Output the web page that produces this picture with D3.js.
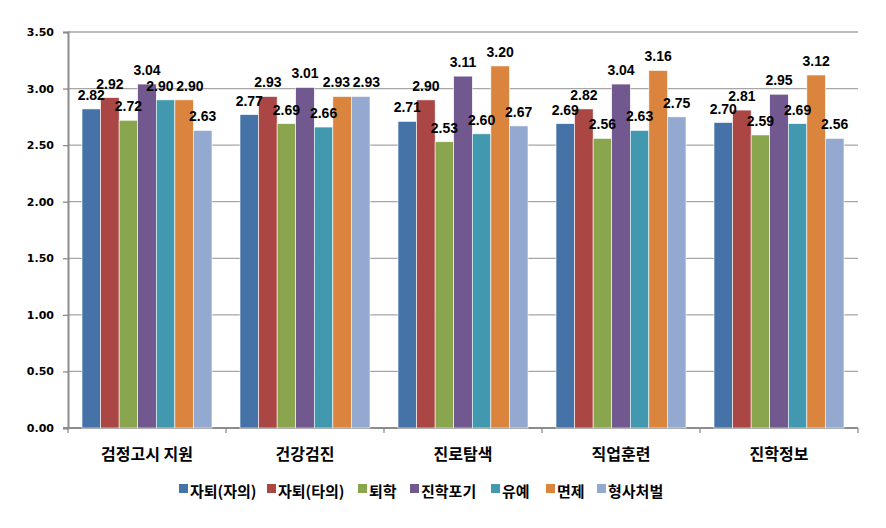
<!DOCTYPE html>
<html>
<head>
<meta charset="utf-8">
<script src="https://cdn.jsdelivr.net/npm/d3@7"></script>
<style>
  body { margin: 0; background: #fff; }
  text { font-family: "Noto Sans CJK KR", "Noto Sans", sans-serif; font-weight: bold; fill: #000; }
</style>
</head>
<body>
<svg id="chart" width="886" height="528"></svg>
<script>
// categories along the x axis
var categories = ["검정고시 지원", "건강검진", "진로탐색", "직업훈련", "진학정보"];

// series names
var seriesNames = ["자퇴(자의)", "자퇴(타의)", "퇴학", "진학포기", "유예", "면제", "형사처벌"];

// values per series (one per category)
var jatoiJaui   = [2.82, 2.77, 2.71, 2.69, 2.70];
var jatoiTaui   = [2.92, 2.93, 2.90, 2.82, 2.81];
var toehak      = [2.72, 2.69, 2.53, 2.56, 2.59];
var jinhakPogi  = [3.04, 3.01, 3.11, 3.04, 2.95];
var yuye        = [2.90, 2.66, 2.60, 2.63, 2.69];
var myeonje     = [2.90, 2.93, 3.20, 3.16, 3.12];
var hyeongsa    = [2.63, 2.93, 2.67, 2.75, 2.56];

var yTicks = [0, 0.5, 1.0, 1.5, 2.0, 2.5, 3.0, 3.5];

var seriesValues = [jatoiJaui, jatoiTaui, toehak, jinhakPogi, yuye, myeonje, hyeongsa];
var colors = ["#4572A7", "#AA4643", "#89A54E", "#71588F", "#4198AF", "#DB843D", "#93A9CF"];

/**
 * draws the grouped bar chart
 */
function drawChart()
{
    var svg = d3.select("#chart");
    var left = 68, right = 858, top = 32, bottom = 428;

    var x0 = d3.scaleBand().domain(categories).range([left, right]).paddingInner(0).paddingOuter(0);
    var x1 = d3.scaleBand().domain(d3.range(seriesNames.length))
            .range([14, x0.bandwidth() - 14]).padding(0);
    var y = d3.scaleLinear().domain([0, 3.5]).range([bottom, top]);

    // grid lines
    svg.append("g").selectAll("line")
            .data(yTicks.filter(function(t) { return t > 0; }))
            .enter().append("line")
            .attr("x1", left).attr("x2", right)
            .attr("y1", function(d) { return y(d); })
            .attr("y2", function(d) { return y(d); })
            .style("stroke", "#a6a6a6")
            .style("stroke-width", "1.3px");

    // y axis
    var yAxis = svg.append("g")
            .attr("transform", "translate(" + left + ",0)")
            .call(d3.axisLeft(y).tickValues(yTicks).tickFormat(d3.format(".2f")).tickSize(5).tickPadding(9));
    yAxis.select(".domain").style("stroke", "#8c8c8c").style("stroke-width", "2px");
    yAxis.selectAll(".tick line").style("stroke", "#8c8c8c").style("stroke-width", "1.3px");
    yAxis.selectAll("text").style("font-size", "11px").style("font-family", "'DejaVu Sans', sans-serif");

    // x axis
    var xAxis = svg.append("g")
            .attr("transform", "translate(0," + bottom + ")");
    xAxis.append("line")
            .attr("x1", left - 5).attr("x2", right)
            .style("stroke", "#8c8c8c").style("stroke-width", "2px");
    xAxis.selectAll(".tk")
            .data(categories.concat(["_end"]))
            .enter().append("line")
            .attr("class", "tk")
            .attr("x1", function(d, i) { return left + i * x0.bandwidth(); })
            .attr("x2", function(d, i) { return left + i * x0.bandwidth(); })
            .attr("y1", 0).attr("y2", 5)
            .style("stroke", "#8c8c8c").style("stroke-width", "1.3px");
    xAxis.selectAll(".cat")
            .data(categories)
            .enter().append("text")
            .attr("class", "cat")
            .attr("x", function(d) { return x0(d) + x0.bandwidth() / 2; })
            .attr("y", 32)
            .attr("text-anchor", "middle")
            .style("font-size", "16px")
            .text(function(d) { return d; });

    // bars
    var groups = svg.append("g").selectAll("g")
            .data(categories)
            .enter().append("g")
            .attr("transform", function(d) { return "translate(" + x0(d) + ",0)"; });

    groups.selectAll("rect")
            .data(function(d, ci) {
                return seriesValues.map(function(s, si) { return {si: si, v: s[ci]}; });
            })
            .enter().append("rect")
            .attr("x", function(d) { return x1(d.si); })
            .attr("width", x1.bandwidth())
            .attr("y", function(d) { return y(d.v); })
            .attr("height", function(d) { return y(0) - y(d.v); })
            .style("fill", function(d) { return colors[d.si]; })
            .style("stroke", "#fff")
            .style("stroke-width", "0.6px");

    // value labels: nudge apart neighbours that sit at nearly the same height
    function labelData(d, ci) {
        var list = seriesValues.map(function(s, si) {
            return {si: si, v: s[ci], x: x1(si) + x1.bandwidth() / 2, y: y(s[ci]) - 9};
        });
        var w = 30;
        for (var i = 1; i < list.length; i++) {
            var a = list[i - 1], b = list[i];
            if (Math.abs(a.y - b.y) < 11 && b.x - a.x < w) {
                var push = (w - (b.x - a.x)) / 2;
                a.x -= push;
                b.x += push;
            }
        }
        return list;
    }

    groups.selectAll(".lbl")
            .data(labelData)
            .enter().append("text")
            .attr("class", "lbl")
            .attr("x", function(d) { return d.x; })
            .attr("y", function(d) { return d.y; })
            .attr("text-anchor", "middle")
            .style("font-size", "14px")
            .style("font-family", "'Liberation Sans', Arial, sans-serif")
            .text(function(d) { return d3.format(".2f")(d.v); });

    // legend
    var legendX = [179, 267, 358, 410, 491, 546, 597];
    var legend = svg.append("g").selectAll("g")
            .data(seriesNames)
            .enter().append("g")
            .attr("transform", function(d, i) { return "translate(" + legendX[i] + ",484)"; });
    legend.append("rect")
            .attr("width", 9).attr("height", 9)
            .style("fill", function(d, i) { return colors[i]; });
    legend.append("text")
            .attr("x", 11).attr("y", 13)
            .style("font-size", "15px")
            .text(function(d) { return d; });
}

drawChart();
</script>
</body>
</html>
